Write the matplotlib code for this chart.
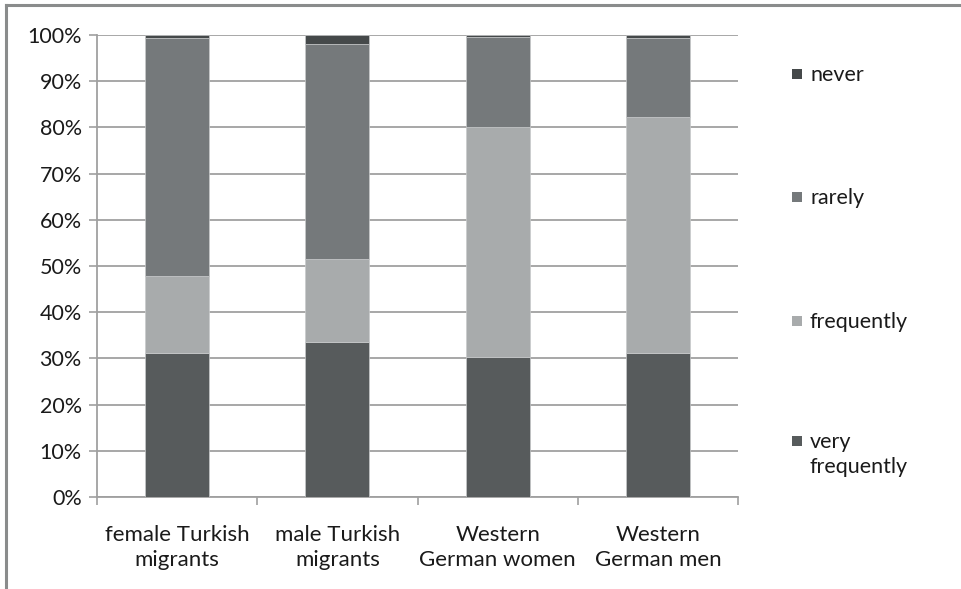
import matplotlib
matplotlib.use("Agg")
import matplotlib.pyplot as plt
from matplotlib.patches import Rectangle
from matplotlib.lines import Line2D
import numpy as np

plt.rcParams['font.family'] = ['Lato', 'DejaVu Sans']

categories = ["female Turkish\nmigrants", "male Turkish\nmigrants",
              "Western\nGerman women", "Western\nGerman men"]
very_frequently = [31.1, 33.5, 30.4, 31.1]
frequently = [16.7, 18.0, 49.7, 51.2]
rarely = [51.6, 46.5, 19.5, 17.1]
never = [0.6, 2.0, 0.4, 0.6]

series = [
    ("very\nfrequently", very_frequently, "#575b5c"),
    ("frequently", frequently, "#a8abac"),
    ("rarely", rarely, "#75797b"),
    ("never", never, "#45494a"),
]

FS = 15.5
TXT = "#1a1a1a"

fig = plt.figure(figsize=(9.61, 5.89), dpi=100)
ax = fig.add_axes([97 / 961, 1 - 497 / 589, (738 - 97) / 961, (497 - 35) / 589])

x = np.arange(len(categories))
bottom = np.zeros(len(categories))
for label, vals, color in series:
    vals = np.array(vals)
    ax.bar(x, vals, width=0.4, bottom=bottom, color=color,
           edgecolor="#c8cacb", linewidth=0.5, zorder=3)
    bottom += vals

ax.set_xlim(-0.5, len(categories) - 0.5)
ax.set_ylim(0, 100)
ax.set_yticks(np.arange(0, 101, 10))
ax.set_yticklabels([f"{v}%" for v in range(0, 101, 10)])
ax.yaxis.grid(True, color="#a0a0a0", linewidth=1.3, zorder=0)
ax.set_axisbelow(True)

ax.set_xticks(x)
ax.set_xticklabels(categories, fontsize=FS + 0.5, color=TXT, linespacing=1.3)
ax.set_xticks(np.arange(-0.5, len(categories)), minor=True)
ax.tick_params(axis="x", which="major", length=0, pad=20)
ax.tick_params(axis="x", which="minor", length=6, color="#a0a0a0", width=1.2)
ax.tick_params(axis="y", length=6, color="#a0a0a0", width=1.2,
               labelsize=FS, labelcolor=TXT, pad=5)

for side in ("top", "right"):
    ax.spines[side].set_visible(False)
for side in ("left", "bottom"):
    ax.spines[side].set_color("#a0a0a0")
    ax.spines[side].set_linewidth(1.3)

# Legend entries stacked down the right side, "never" on top
legend_y = [74, 197, 321, 441]
for (label, _, color), yp in zip(reversed(series), legend_y):
    fy = 1 - yp / 589
    fig.patches.append(Rectangle((792 / 961, fy - 5 / 589), 10 / 961, 10 / 589,
                                 transform=fig.transFigure, facecolor=color,
                                 edgecolor="none"))
    fig.text(810 / 961, fy + 9 / 589, label, fontsize=FS, color=TXT,
             va="top", ha="left", linespacing=1.3)

# Frame lines along the top and left edges
fig.lines.append(Line2D([6 / 961, 1], [1 - 5 / 589, 1 - 5 / 589],
                        transform=fig.transFigure, color="#8a8c8c", linewidth=2.2))
fig.lines.append(Line2D([6 / 961, 6 / 961], [0, 1 - 5 / 589],
                        transform=fig.transFigure, color="#8a8c8c", linewidth=2.2))

fig.savefig("out.png", dpi=100, facecolor="white")
